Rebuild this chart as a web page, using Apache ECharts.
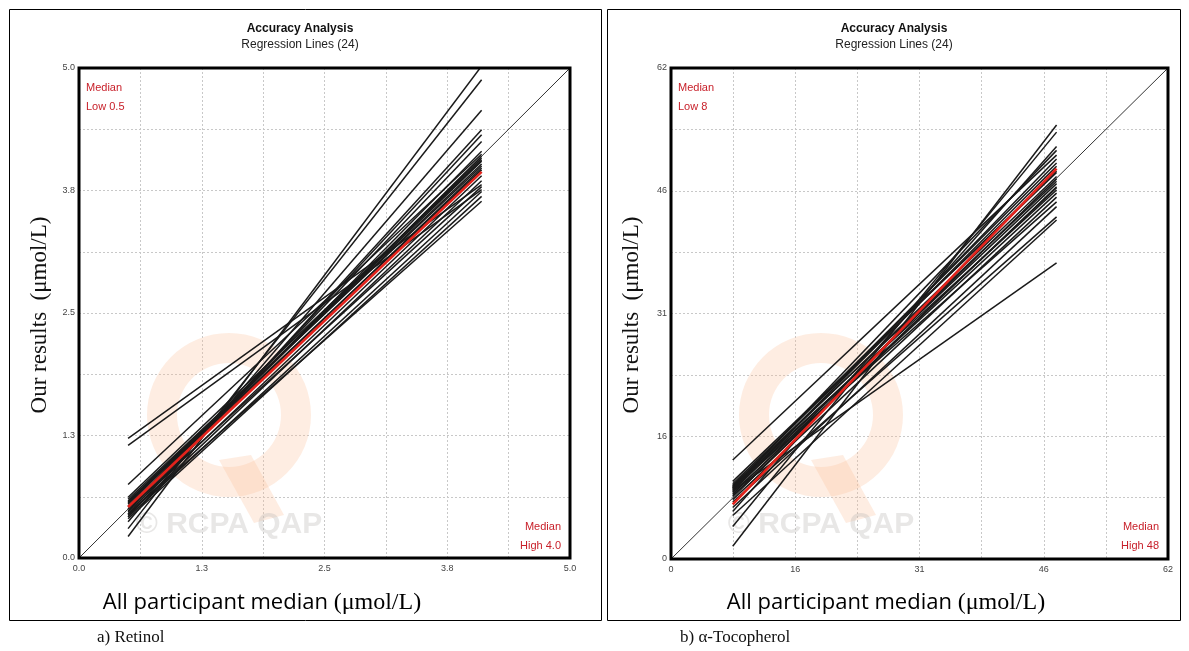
<!DOCTYPE html>
<html>
<head>
<meta charset="utf-8">
<script src="https://cdn.jsdelivr.net/npm/echarts@6/dist/echarts.min.js"></script>
<style>html,body{margin:0;padding:0;background:#fff}#c{width:1189px;height:651px}</style>
</head>
<body>
<div id="c"></div>
<script>
// ---- Data ----
const titleMain = "Accuracy Analysis";
const titleSub = "Regression Lines (24)";
const xAxisTitleA = "All participant median ";
const xAxisTitleB = "(μmol/L)";
const yAxisTitle = "Our results  (μmol/L)";

// Retinol
const retinolTicks = ["0.0", "1.3", "2.5", "3.8", "5.0"];
const retinolMax = 5.0;
const retinolLowHigh = [0.5, 4.1];
const retinolStart = [0.22, 0.30, 0.37, 0.42, 0.45, 0.48, 0.50, 0.52, 0.55, 0.57, 0.58, 0.60, 0.53, 0.56, 0.47, 0.44, 0.50, 0.42, 0.40, 0.45, 0.75, 1.22, 1.15, 0.62];
const retinolEnd   = [5.02, 4.88, 4.57, 4.37, 4.32, 4.25, 4.15, 4.10, 4.08, 4.05, 4.02, 4.00, 3.98, 3.96, 3.90, 3.85, 3.79, 3.74, 3.69, 3.64, 4.12, 3.81, 3.76, 4.06];
const retinolMedian = [0.52, 3.94];
const retinolNotes = ["Median", "Low 0.5", "Median", "High 4.0"];

// alpha-Tocopherol
const tocoTicks = ["0", "16", "31", "46", "62"];
const tocoMax = 62;
const tocoLowHigh = [7.7, 48.1];
const tocoStart = [1.6, 4.1, 6.0, 12.5, 9.0, 8.5, 9.2, 8.8, 9.5, 9.0, 8.2, 9.3, 8.7, 7.9, 9.1, 8.4, 7.5, 8.9, 6.5, 7.2, 5.5, 8.6, 9.8, 8.0];
const tocoEnd   = [54.8, 53.9, 52.1, 51.0, 51.6, 50.5, 50.0, 49.6, 49.0, 48.3, 48.0, 47.7, 47.4, 47.0, 46.6, 46.2, 45.7, 45.1, 44.5, 43.2, 42.8, 37.4, 48.8, 46.9];
const tocoMedian = [6.9, 49.3];
const tocoNotes = ["Median", "Low 8", "Median", "High 48"];

const captions = ["a) Retinol", "b) α-Tocopherol"];

// ---- Build ----
const grids = [
  {left: 79, top: 68, width: 491, height: 490},
  {left: 671, top: 68, width: 497, height: 491}
];

function axis(gi, max, ticks, isX) {
  const step = max / 8;
  return {
    type: 'value', gridIndex: gi, min: 0, max: max, interval: step,
    axisLine: {show: false}, axisTick: {show: false},
    axisLabel: {
      color: '#444', fontSize: 9, fontFamily: 'Liberation Sans', margin: isX ? 6 : 4,
      showMinLabel: true, showMaxLabel: true,
      formatter: function (v) {
        const i = Math.round(v / step);
        return i % 2 === 0 ? ticks[i / 2] : '';
      }
    },
    splitLine: {show: true, showMinLine: false, showMaxLine: false, lineStyle: {color: '#c8c8c8', type: [2, 2], width: 1}}
  };
}

const series = [];
function addPanel(gi, max, lowHigh, starts, ends, median) {
  series.push({
    type: 'line', xAxisIndex: gi, yAxisIndex: gi, symbol: 'none', silent: true,
    data: [[0, 0], [max, max]], lineStyle: {color: '#333', width: 1}, z: 3
  });
  for (let k = 0; k < starts.length; k++) {
    series.push({
      type: 'line', xAxisIndex: gi, yAxisIndex: gi, symbol: 'none', silent: true,
      data: [[lowHigh[0], starts[k]], [lowHigh[1], ends[k]]],
      lineStyle: {color: '#1a1a1a', width: 1.5}, z: 4, clip: true
    });
  }
  series.push({
    type: 'line', xAxisIndex: gi, yAxisIndex: gi, symbol: 'none', silent: true,
    data: [[lowHigh[0], median[0]], [lowHigh[1], median[1]]],
    lineStyle: {color: '#e3231c', width: 2.6}, z: 5
  });
}
addPanel(0, retinolMax, retinolLowHigh, retinolStart, retinolEnd, retinolMedian);
addPanel(1, tocoMax, tocoLowHigh, tocoStart, tocoEnd, tocoMedian);

function panelGraphics(box, g, notes, titleCx, xTitleCx, yTitleCx, capX, caption) {
  const els = [];
  els.push({type: 'rect', shape: {x: box[0] + 0.5, y: box[1] + 0.5, width: box[2], height: box[3]},
            style: {fill: 'none', stroke: '#000', lineWidth: 1}, z: 0});
  els.push({type: 'rect', shape: {x: g.left, y: g.top, width: g.width, height: g.height},
            style: {fill: 'none', stroke: '#000', lineWidth: 3}, z: 30, silent: true});
  els.push({type: 'text', x: titleCx, y: 29, style: {text: titleMain, font: 'bold 12px "Liberation Sans"', fill: '#111', align: 'center', verticalAlign: 'middle'}});
  els.push({type: 'text', x: titleCx, y: 45, style: {text: titleSub, font: '12px "Liberation Sans"', fill: '#222', align: 'center', verticalAlign: 'middle'}});
  // watermark
  const cx = g.left + 150, cy = 415;
  els.push({type: 'ring', shape: {cx: cx, cy: cy, r: 82, r0: 52}, style: {fill: 'rgba(250,190,150,0.28)'}, z: 1, silent: true});
  els.push({type: 'polygon', shape: {points: [[cx - 10, cy + 45], [cx + 22, cy + 40], [cx + 55, cy + 100], [cx + 25, cy + 108]]}, style: {fill: 'rgba(250,190,150,0.28)'}, z: 1, silent: true});
  els.push({type: 'text', x: cx, y: 525, style: {text: '© RCPA QAP', font: 'bold 30px "Liberation Sans"', fill: 'rgba(190,185,182,0.35)', align: 'center', verticalAlign: 'middle'}, z: 1, silent: true});
  // notes
  els.push({type: 'text', x: g.left + 7, y: 88, style: {text: notes[0], font: '11px "Liberation Sans"', fill: '#c8202a', verticalAlign: 'middle'}, z: 10});
  els.push({type: 'text', x: g.left + 7, y: 107, style: {text: notes[1], font: '11px "Liberation Sans"', fill: '#c8202a', verticalAlign: 'middle'}, z: 10});
  els.push({type: 'text', x: g.left + g.width - 9, y: 527, style: {text: notes[2], font: '11px "Liberation Sans"', fill: '#c8202a', align: 'right', verticalAlign: 'middle'}, z: 10});
  els.push({type: 'text', x: g.left + g.width - 9, y: 546, style: {text: notes[3], font: '11px "Liberation Sans"', fill: '#c8202a', align: 'right', verticalAlign: 'middle'}, z: 10});
  // axis titles
  els.push({type: 'text', x: xTitleCx, y: 603, style: {
    text: '{a|' + xAxisTitleA + '}{b|' + xAxisTitleB + '}', align: 'center', verticalAlign: 'middle',
    rich: {a: {fontSize: 22, fontFamily: 'Open Sans', color: '#111'},
           b: {fontSize: 24, fontFamily: 'Liberation Serif', color: '#111'}}
  }});
  els.push({type: 'text', x: yTitleCx, y: 315, rotation: Math.PI / 2, style: {
    text: yAxisTitle, font: '23px "Liberation Serif"', fill: '#111', align: 'center', verticalAlign: 'middle'
  }});
  els.push({type: 'text', x: capX, y: 638, style: {text: caption, font: '17px "Liberation Serif"', fill: '#111', verticalAlign: 'middle'}});
  return els;
}

const graphics = [].concat(
  panelGraphics([9, 9, 592, 611], grids[0], retinolNotes, 300, 262, 40, 97, captions[0]),
  panelGraphics([607, 9, 573, 611], grids[1], tocoNotes, 894, 886, 632, 680, captions[1])
);

const chart = echarts.init(document.getElementById('c'), null, {renderer: 'canvas'});
chart.setOption({
  animation: false,
  backgroundColor: '#fff',
  grid: grids.map(g => Object.assign({show: false, containLabel: false}, g)),
  xAxis: [axis(0, retinolMax, retinolTicks, true), axis(1, tocoMax, tocoTicks, true)],
  yAxis: [axis(0, retinolMax, retinolTicks, false), axis(1, tocoMax, tocoTicks, false)],
  series: series,
  graphic: {elements: graphics}
});
</script>
</body>
</html>
